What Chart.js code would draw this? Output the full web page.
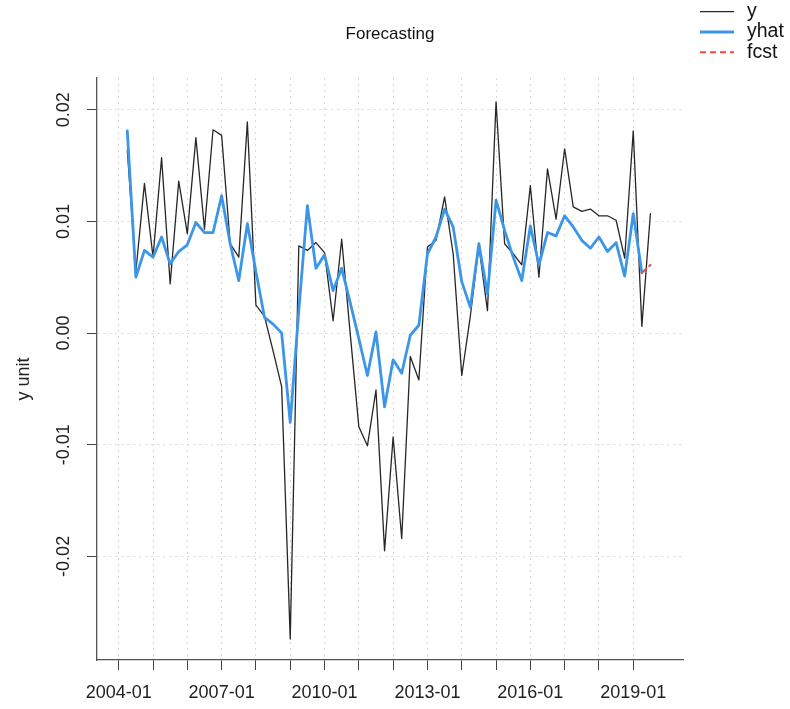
<!DOCTYPE html>
<html>
<head>
<meta charset="utf-8">
<title>Forecasting</title>
<script src="https://cdn.jsdelivr.net/npm/chart.js@4/dist/chart.umd.min.js"></script>
<style>
  html, body { margin: 0; padding: 0; background: #ffffff; }
  canvas { display: block; }
</style>
</head>
<body>
<canvas id="chart" width="790" height="709"></canvas>
<script>
// Quarterly periods of the observed series
const periods = [
  '2004-04','2004-07','2004-10',
  '2005-01','2005-04','2005-07','2005-10',
  '2006-01','2006-04','2006-07','2006-10',
  '2007-01','2007-04','2007-07','2007-10',
  '2008-01','2008-04','2008-07','2008-10',
  '2009-01','2009-04','2009-07','2009-10',
  '2010-01','2010-04','2010-07','2010-10',
  '2011-01','2011-04','2011-07','2011-10',
  '2012-01','2012-04','2012-07','2012-10',
  '2013-01','2013-04','2013-07','2013-10',
  '2014-01','2014-04','2014-07','2014-10',
  '2015-01','2015-04','2015-07','2015-10',
  '2016-01','2016-04','2016-07','2016-10',
  '2017-01','2017-04','2017-07','2017-10',
  '2018-01','2018-04','2018-07','2018-10',
  '2019-01','2019-04','2019-07'
];

// Observed values (y)
const yValues = [
  0.0164, 0.0055, 0.0134,
  0.0068, 0.0157, 0.0044, 0.0136,
  0.0089, 0.0175, 0.0093, 0.0182,
  0.0177, 0.0080, 0.0068, 0.0189,
  0.0025, 0.0015, -0.0016, -0.0048,
  -0.0274, 0.0078, 0.0074, 0.0081,
  0.0072, 0.0011, 0.0084, -0.0001,
  -0.0084, -0.0101, -0.0051, -0.0195,
  -0.0093, -0.0184, -0.0021, -0.0042,
  0.0077, 0.0083, 0.0122, 0.0071,
  -0.0038, 0.0015, 0.0078, 0.0020,
  0.0207, 0.0080, 0.0071, 0.0061,
  0.0132, 0.0050, 0.0147, 0.0102,
  0.0165, 0.0113, 0.0109, 0.0111,
  0.0105, 0.0105, 0.0101, 0.0067,
  0.0181, 0.0006, 0.0107
];

// Fitted values (yhat), one per period up to 2019-04
const yhatValues = [
  0.0181, 0.0050, 0.0074,
  0.0068, 0.0086, 0.0062, 0.0073,
  0.0079, 0.0099, 0.0090, 0.0090,
  0.0123, 0.0080, 0.0047, 0.0098,
  0.0055, 0.0014, 0.0008, 0.0000,
  -0.0080, 0.0020, 0.0114, 0.0058,
  0.0070, 0.0038, 0.0058, 0.0027,
  -0.0005, -0.0038, 0.0001, -0.0066,
  -0.0024, -0.0036, -0.0002, 0.0007,
  0.0071, 0.0086, 0.0111, 0.0095,
  0.0046, 0.0023, 0.0080, 0.0035,
  0.0119, 0.0092, 0.0068, 0.0047,
  0.0096, 0.0061, 0.0090, 0.0087,
  0.0105, 0.0095, 0.0083, 0.0076,
  0.0086, 0.0073, 0.0081, 0.0051,
  0.0107, 0.0054
];

// Forecast
const fcstPeriods = ['2019-04', '2019-07'];
const fcstValues = [0.0054, 0.0061];

// Axis ticks
const xTickYears = [2004, 2005, 2006, 2007, 2008, 2009, 2010, 2011, 2012, 2013, 2014, 2015, 2016, 2017, 2018, 2019];
const xLabelYears = [2004, 2007, 2010, 2013, 2016, 2019];
const yTicks = [-0.02, -0.01, 0.00, 0.01, 0.02];

const titleText = 'Forecasting';
const yAxisTitle = 'y unit';

const series = [
  { label: 'y', color: '#262626', width: 1.3, dash: [] },
  { label: 'yhat', color: '#3c96e8', width: 2.8, dash: [] },
  { label: 'fcst', color: '#ef4a36', width: 2, dash: [6, 4] }
];

// "YYYY-MM" -> decimal year
function toYear(p) {
  const [yy, mm] = p.split('-').map(Number);
  return yy + (mm - 1) / 12;
}
function toPoints(ps, vs) {
  return vs.map((v, i) => ({ x: toYear(ps[i]), y: v }));
}

const FONT = '"Liberation Sans", Arial, Helvetica, sans-serif';

const decorations = {
  id: 'decorations',
  afterDraw(chart) {
    const ctx = chart.ctx;
    const area = chart.chartArea;
    const yScale = chart.scales.y;
    ctx.save();

    // title
    ctx.fillStyle = '#111';
    ctx.font = '17px ' + FONT;
    ctx.textAlign = 'center';
    ctx.textBaseline = 'middle';
    ctx.fillText(titleText, (area.left + area.right) / 2, 34);

    // y tick labels, written vertically
    ctx.fillStyle = '#222';
    ctx.font = '18px ' + FONT;
    ctx.textBaseline = 'alphabetic';
    yScale.ticks.forEach(t => {
      const py = yScale.getPixelForValue(t.value);
      ctx.save();
      ctx.translate(68.5, py);
      ctx.rotate(-Math.PI / 2);
      ctx.fillText(t.value.toFixed(2), 0, 0);
      ctx.restore();
    });

    // y axis title
    ctx.save();
    ctx.translate(24, 379);
    ctx.rotate(-Math.PI / 2);
    ctx.textBaseline = 'middle';
    ctx.fillText(yAxisTitle, 0, 0);
    ctx.restore();

    // legend
    ctx.font = '19.5px ' + FONT;
    ctx.textAlign = 'left';
    ctx.textBaseline = 'middle';
    series.forEach((s, k) => {
      const ly = 11.7 + k * 20.3;
      ctx.beginPath();
      ctx.strokeStyle = s.color;
      ctx.lineWidth = s.width;
      ctx.setLineDash(s.dash);
      ctx.moveTo(700, ly);
      ctx.lineTo(734, ly);
      ctx.stroke();
      ctx.setLineDash([]);
      ctx.fillStyle = '#111';
      ctx.fillText(s.label, 747, ly);
    });

    ctx.restore();
  }
};

const lineStyle = (s) => ({
  label: s.label,
  borderColor: s.color,
  backgroundColor: s.color,
  borderWidth: s.width,
  borderDash: s.dash,
  pointRadius: 0,
  pointHoverRadius: 0,
  tension: 0,
  fill: false,
  borderJoinStyle: 'round',
  borderCapStyle: 'round'
});

new Chart(document.getElementById('chart'), {
  type: 'line',
  data: {
    datasets: [
      Object.assign(lineStyle(series[0]), { data: toPoints(periods, yValues), order: 3 }),
      Object.assign(lineStyle(series[1]), { data: toPoints(periods, yhatValues), order: 2 }),
      Object.assign(lineStyle(series[2]), { data: toPoints(fcstPeriods, fcstValues), order: 1 })
    ]
  },
  options: {
    responsive: false,
    devicePixelRatio: 1,
    animation: false,
    events: [],
    layout: { padding: { left: 0, right: 107, top: 78, bottom: 0 } },
    plugins: {
      legend: { display: false },
      title: { display: false },
      tooltip: { enabled: false }
    },
    scales: {
      x: {
        type: 'linear',
        min: 2003.367,
        max: 2020.45,
        afterBuildTicks: (scale) => { scale.ticks = xTickYears.map(v => ({ value: v })); },
        afterFit: (scale) => { scale.height = 49; },
        ticks: {
          autoSkip: false,
          maxRotation: 0,
          minRotation: 0,
          padding: 12,
          color: '#222',
          font: { family: FONT, size: 18 },
          callback: (v) => xLabelYears.includes(Math.round(v)) ? Math.round(v) + '-01' : ''
        },
        grid: {
          color: '#d8d8d8',
          lineWidth: 1,
          drawTicks: true,
          tickLength: 10,
          tickColor: '#444',
          tickWidth: 1,
          tickBorderDash: []
        },
        border: { display: true, color: '#555', width: 1.3, dash: [2, 4] }
      },
      y: {
        type: 'linear',
        min: -0.02928,
        max: 0.02284,
        afterBuildTicks: (scale) => { scale.ticks = yTicks.map(v => ({ value: v })); },
        afterFit: (scale) => { scale.width = 97; },
        ticks: {
          color: 'rgba(0,0,0,0)',
          font: { family: FONT, size: 18 },
          padding: 4
        },
        grid: {
          color: '#d8d8d8',
          lineWidth: 1,
          drawTicks: true,
          tickLength: 10,
          tickColor: '#444',
          tickWidth: 1,
          tickBorderDash: []
        },
        border: { display: true, color: '#555', width: 1.3, dash: [2, 4] }
      }
    }
  },
  plugins: [decorations]
});
</script>
</body>
</html>
